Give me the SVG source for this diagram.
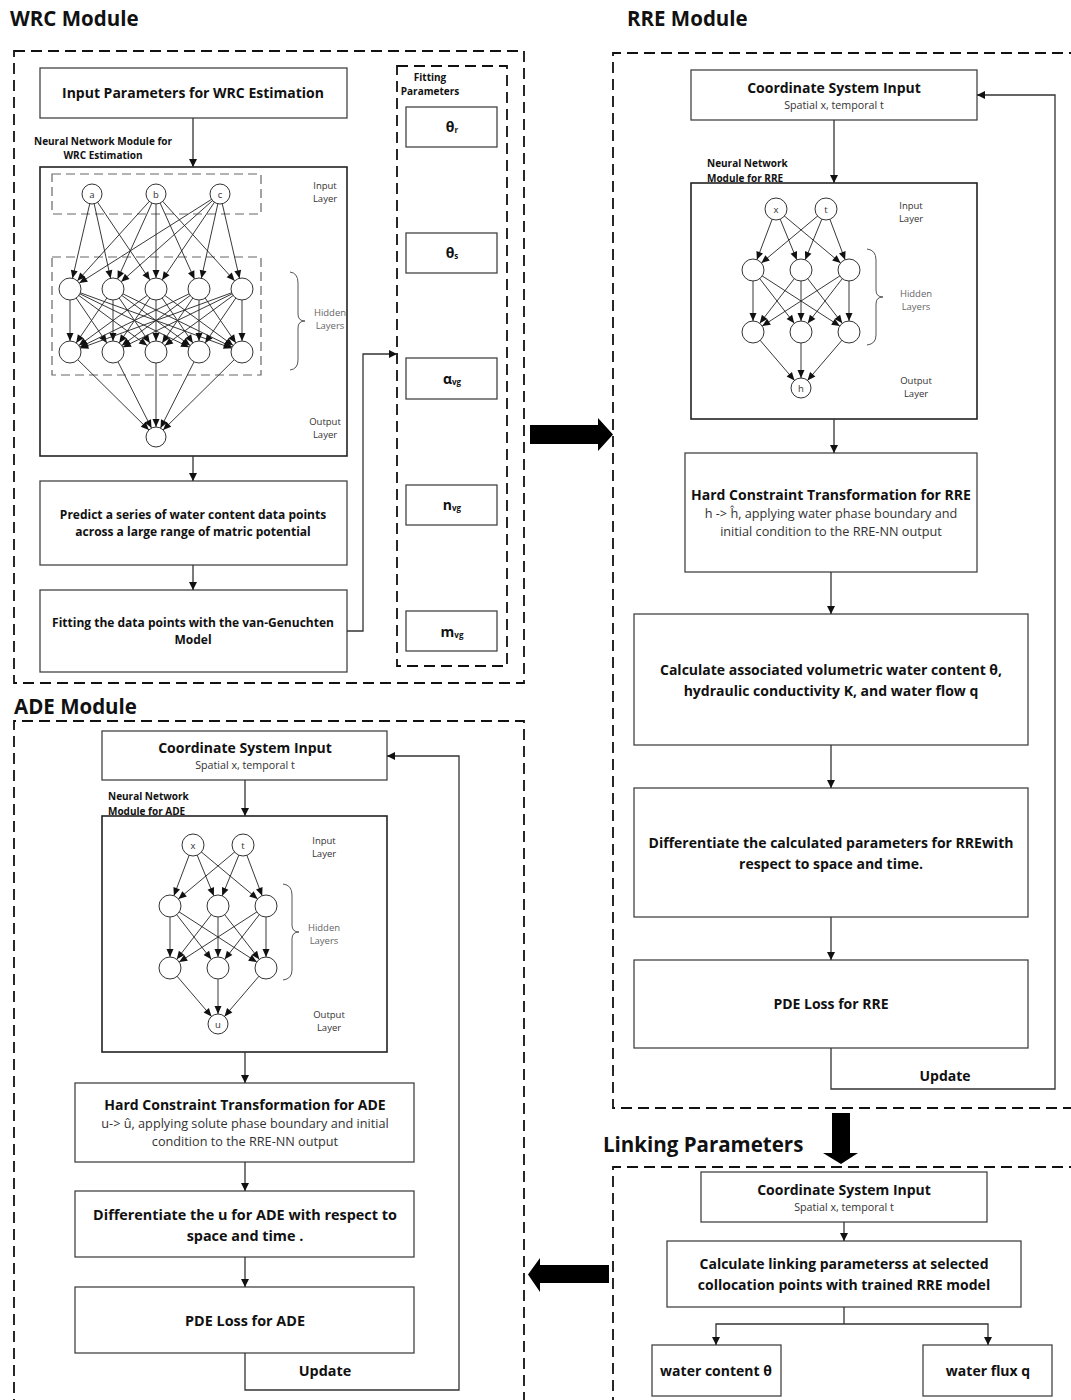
<svg xmlns="http://www.w3.org/2000/svg" width="1071" height="1400" viewBox="0 0 1071 1400">
  <style>
    text { font-family: "Open Sans", "Liberation Sans", sans-serif; fill: #111; }
    .h1 { font-size: 20.5px; font-weight: 700; }
    .bt { font-size: 14px; font-weight: 700; text-anchor: middle; }
    .bl { font-size: 14.4px; font-weight: 700; text-anchor: middle; }
    .bm { font-size: 12px; font-weight: 700; text-anchor: middle; }
    .sub { font-size: 10.7px; text-anchor: middle; fill: #333; }
    .sub2 { font-size: 12.7px; text-anchor: middle; fill: #333; }
    .lbl { font-size: 10px; font-weight: 700; }
    .lay { font-size: 9.5px; text-anchor: middle; fill: #333; }
    .layg { font-size: 9.5px; text-anchor: middle; fill: #666; }
    .nd { font-size: 9.5px; text-anchor: middle; fill: #333; }
    .prm { font-size: 14px; font-weight: 700; text-anchor: middle; }
    .prm tspan.s { font-size: 8px; }
    .box { fill: #fff; stroke: #444; stroke-width: 1.3; }
    .nnbox { fill: #fff; stroke: #222; stroke-width: 1.6; }
    .dash { fill: none; stroke: #111; stroke-width: 1.8; stroke-dasharray: 11 6; }
    .dashg { fill: none; stroke: #666; stroke-width: 1.2; stroke-dasharray: 9 5; }
    .flow { fill: none; stroke: #333; stroke-width: 1.3; marker-end: url(#arr); }
    .wire { fill: none; stroke: #333; stroke-width: 1.3; }
    .e11 { stroke: #222; stroke-width: 0.9; marker-end: url(#nn11); }
    .e10 { stroke: #222; stroke-width: 0.9; marker-end: url(#nn10); }
    .nc { fill: #fff; stroke: #333; stroke-width: 1; }
    .brace { fill: none; stroke: #555; stroke-width: 1; }
    .block { fill: #000; }
  </style>
  <defs>
    <marker id="arr" markerUnits="userSpaceOnUse" markerWidth="9" markerHeight="8" refX="8" refY="4" orient="auto" overflow="visible">
      <path d="M0,0 L8,4 L0,8 z" fill="#111"/>
    </marker>
    <!-- arrowheads that stop at the rim of a network node (r = 11 / r = 10) -->
    <marker id="nn11" markerUnits="userSpaceOnUse" markerWidth="8" markerHeight="7" refX="19" refY="3.5" orient="auto" overflow="visible">
      <path d="M0,0 L8,3.5 L0,7 z" fill="#111"/>
    </marker>
    <marker id="nn10" markerUnits="userSpaceOnUse" markerWidth="8" markerHeight="7" refX="18" refY="3.5" orient="auto" overflow="visible">
      <path d="M0,0 L8,3.5 L0,7 z" fill="#111"/>
    </marker>
    <!-- small 2-3-3-1 network used by the RRE and ADE modules -->
    <g id="net2">
      <line class="e11" x1="-25" y1="0" x2="-48" y2="61"/>
      <line class="e11" x1="-25" y1="0" x2="0" y2="61"/>
      <line class="e11" x1="-25" y1="0" x2="48" y2="61"/>
      <line class="e11" x1="25" y1="0" x2="-48" y2="61"/>
      <line class="e11" x1="25" y1="0" x2="0" y2="61"/>
      <line class="e11" x1="25" y1="0" x2="48" y2="61"/>
      <line class="e11" x1="-48" y1="61" x2="-48" y2="123"/>
      <line class="e11" x1="-48" y1="61" x2="0" y2="123"/>
      <line class="e11" x1="-48" y1="61" x2="48" y2="123"/>
      <line class="e11" x1="0" y1="61" x2="-48" y2="123"/>
      <line class="e11" x1="0" y1="61" x2="0" y2="123"/>
      <line class="e11" x1="0" y1="61" x2="48" y2="123"/>
      <line class="e11" x1="48" y1="61" x2="-48" y2="123"/>
      <line class="e11" x1="48" y1="61" x2="0" y2="123"/>
      <line class="e11" x1="48" y1="61" x2="48" y2="123"/>
      <line class="e10" x1="-48" y1="123" x2="0" y2="179"/>
      <line class="e10" x1="0" y1="123" x2="0" y2="179"/>
      <line class="e10" x1="48" y1="123" x2="0" y2="179"/>
      <circle class="nc" cx="-25" cy="0" r="11"/>
      <circle class="nc" cx="25" cy="0" r="11"/>
      <circle class="nc" cx="-48" cy="61" r="11"/>
      <circle class="nc" cx="0" cy="61" r="11"/>
      <circle class="nc" cx="48" cy="61" r="11"/>
      <circle class="nc" cx="-48" cy="123" r="11"/>
      <circle class="nc" cx="0" cy="123" r="11"/>
      <circle class="nc" cx="48" cy="123" r="11"/>
      <circle class="nc" cx="0" cy="179" r="10"/>
      <text class="nd" x="-25" y="3.5">x</text>
      <text class="nd" x="25" y="3.5">t</text>
    </g>
  </defs>

  <rect width="1071" height="1400" fill="#fff"/>

  <!-- ===== WRC module ===== -->
  <g id="wrc-module">
    <text class="h1" x="10" y="26">WRC Module</text>
    <rect class="dash" x="14" y="51" width="510" height="632"/>
  </g>

  <g id="wrc-input">
    <rect class="box" x="40" y="68" width="307" height="50"/>
    <text class="bt" x="193" y="98">Input Parameters for WRC Estimation</text>
  </g>

  <g id="wrc-nn">
    <text class="lbl" x="103" y="145" text-anchor="middle">Neural Network Module for</text>
    <text class="lbl" x="103" y="159" text-anchor="middle">WRC Estimation</text>
    <rect class="nnbox" x="40" y="167" width="307" height="289"/>
    <rect class="dashg" x="52" y="174" width="209" height="40"/>
    <rect class="dashg" x="52" y="257" width="209" height="118"/>
    <!-- input -> hidden 1 -->
    <line class="e11" x1="92" y1="194" x2="70" y2="289"/>
    <line class="e11" x1="92" y1="194" x2="113" y2="289"/>
    <line class="e11" x1="92" y1="194" x2="156" y2="289"/>
    <line class="e11" x1="156" y1="194" x2="70" y2="289"/>
    <line class="e11" x1="156" y1="194" x2="113" y2="289"/>
    <line class="e11" x1="156" y1="194" x2="156" y2="289"/>
    <line class="e11" x1="156" y1="194" x2="199" y2="289"/>
    <line class="e11" x1="156" y1="194" x2="242" y2="289"/>
    <line class="e11" x1="220" y1="194" x2="70" y2="289"/>
    <line class="e11" x1="220" y1="194" x2="113" y2="289"/>
    <line class="e11" x1="220" y1="194" x2="156" y2="289"/>
    <line class="e11" x1="220" y1="194" x2="199" y2="289"/>
    <line class="e11" x1="220" y1="194" x2="242" y2="289"/>
    <!-- hidden 1 -> hidden 2 -->
    <line class="e11" x1="70" y1="289" x2="70" y2="352"/>
    <line class="e11" x1="70" y1="289" x2="113" y2="352"/>
    <line class="e11" x1="70" y1="289" x2="156" y2="352"/>
    <line class="e11" x1="70" y1="289" x2="199" y2="352"/>
    <line class="e11" x1="70" y1="289" x2="242" y2="352"/>
    <line class="e11" x1="113" y1="289" x2="70" y2="352"/>
    <line class="e11" x1="113" y1="289" x2="113" y2="352"/>
    <line class="e11" x1="113" y1="289" x2="156" y2="352"/>
    <line class="e11" x1="113" y1="289" x2="199" y2="352"/>
    <line class="e11" x1="113" y1="289" x2="242" y2="352"/>
    <line class="e11" x1="156" y1="289" x2="70" y2="352"/>
    <line class="e11" x1="156" y1="289" x2="113" y2="352"/>
    <line class="e11" x1="156" y1="289" x2="156" y2="352"/>
    <line class="e11" x1="156" y1="289" x2="199" y2="352"/>
    <line class="e11" x1="156" y1="289" x2="242" y2="352"/>
    <line class="e11" x1="199" y1="289" x2="70" y2="352"/>
    <line class="e11" x1="199" y1="289" x2="113" y2="352"/>
    <line class="e11" x1="199" y1="289" x2="156" y2="352"/>
    <line class="e11" x1="199" y1="289" x2="199" y2="352"/>
    <line class="e11" x1="199" y1="289" x2="242" y2="352"/>
    <line class="e11" x1="242" y1="289" x2="70" y2="352"/>
    <line class="e11" x1="242" y1="289" x2="113" y2="352"/>
    <line class="e11" x1="242" y1="289" x2="156" y2="352"/>
    <line class="e11" x1="242" y1="289" x2="199" y2="352"/>
    <line class="e11" x1="242" y1="289" x2="242" y2="352"/>
    <!-- hidden 2 -> output -->
    <line class="e10" x1="70" y1="352" x2="156" y2="437"/>
    <line class="e10" x1="113" y1="352" x2="156" y2="437"/>
    <line class="e10" x1="156" y1="352" x2="156" y2="437"/>
    <line class="e10" x1="199" y1="352" x2="156" y2="437"/>
    <line class="e10" x1="242" y1="352" x2="156" y2="437"/>
    <circle class="nc" cx="92" cy="194" r="10"/>
    <circle class="nc" cx="156" cy="194" r="10"/>
    <circle class="nc" cx="220" cy="194" r="10"/>
    <text class="nd" x="92" y="197.5">a</text>
    <text class="nd" x="156" y="197.5">b</text>
    <text class="nd" x="220" y="197.5">c</text>
    <circle class="nc" cx="70" cy="289" r="11"/>
    <circle class="nc" cx="113" cy="289" r="11"/>
    <circle class="nc" cx="156" cy="289" r="11"/>
    <circle class="nc" cx="199" cy="289" r="11"/>
    <circle class="nc" cx="242" cy="289" r="11"/>
    <circle class="nc" cx="70" cy="352" r="11"/>
    <circle class="nc" cx="113" cy="352" r="11"/>
    <circle class="nc" cx="156" cy="352" r="11"/>
    <circle class="nc" cx="199" cy="352" r="11"/>
    <circle class="nc" cx="242" cy="352" r="11"/>
    <circle class="nc" cx="156" cy="437" r="10"/>
    <text class="lay" x="325" y="189">Input</text>
    <text class="lay" x="325" y="202">Layer</text>
    <path class="brace" d="M290,272 Q298,273 298,283 L298,314 Q298,321 305,321 Q298,321 298,328 L298,360 Q298,369 290,370"/>
    <text class="layg" x="330" y="316">Hidden</text>
    <text class="layg" x="330" y="329">Layers</text>
    <text class="lay" x="325" y="425">Output</text>
    <text class="lay" x="325" y="438">Layer</text>
  </g>

  <g id="wrc-predict">
    <rect class="box" x="40" y="481" width="307" height="84"/>
    <text class="bm" x="193" y="519">Predict a series of water content data points</text>
    <text class="bm" x="193" y="536">across a large range of matric potential</text>
  </g>

  <g id="wrc-fit">
    <rect class="box" x="40" y="590" width="307" height="82"/>
    <text class="bm" x="193" y="627">Fitting the data points with the van-Genuchten</text>
    <text class="bm" x="193" y="644">Model</text>
  </g>

  <g id="wrc-params">
    <rect class="dash" x="397" y="66" width="110" height="600"/>
    <text class="lbl" x="430" y="81" text-anchor="middle">Fitting</text>
    <text class="lbl" x="430" y="95" text-anchor="middle">Parameters</text>
    <rect class="box" x="406" y="107" width="91" height="40"/>
    <text class="prm" x="452" y="132">θ<tspan class="s" dy="1">r</tspan></text>
    <rect class="box" x="406" y="233" width="91" height="40"/>
    <text class="prm" x="452" y="258">θ<tspan class="s" dy="1">s</tspan></text>
    <rect class="box" x="406" y="358" width="91" height="41"/>
    <text class="prm" x="452" y="384">α<tspan class="s" dy="1">vg</tspan></text>
    <rect class="box" x="406" y="485" width="91" height="40"/>
    <text class="prm" x="452" y="510">n<tspan class="s" dy="1">vg</tspan></text>
    <rect class="box" x="406" y="611" width="91" height="40"/>
    <text class="prm" x="452" y="637">m<tspan class="s" dy="1">vg</tspan></text>
  </g>

  <!-- ===== RRE module ===== -->
  <g id="rre-module">
    <text class="h1" x="627" y="26">RRE Module</text>
    <path class="dash" d="M1080,53 H613 V1108 H1080"/>
  </g>

  <g id="rre-coord">
    <rect class="box" x="691" y="70" width="286" height="50"/>
    <text class="bt" x="834" y="93">Coordinate System Input</text>
    <text class="sub" x="834" y="109">Spatial x, temporal t</text>
  </g>

  <g id="rre-nn">
    <text class="lbl" x="707" y="167">Neural Network</text>
    <text class="lbl" x="707" y="182">Module for RRE</text>
    <rect class="nnbox" x="691" y="183" width="286" height="236"/>
    <use href="#net2" transform="translate(801,209)"/>
    <text class="nd" x="801" y="391.5">h</text>
    <text class="lay" x="911" y="209">Input</text>
    <text class="lay" x="911" y="222">Layer</text>
    <path class="brace" d="M867,249 Q876,250 876,260 L876,290 Q876,297 883,297 Q876,297 876,304 L876,335 Q876,344 867,345"/>
    <text class="layg" x="916" y="297">Hidden</text>
    <text class="layg" x="916" y="310">Layers</text>
    <text class="lay" x="916" y="384">Output</text>
    <text class="lay" x="916" y="397">Layer</text>
  </g>

  <g id="rre-hard">
    <rect class="box" x="685" y="453" width="292" height="119"/>
    <text class="bt" x="831" y="500">Hard Constraint Transformation for RRE</text>
    <text class="sub2" x="831" y="518">h -&gt; ĥ, applying water phase boundary and</text>
    <text class="sub2" x="831" y="536">initial condition to the RRE-NN output</text>
  </g>

  <g id="rre-calc">
    <rect class="box" x="634" y="614" width="394" height="131"/>
    <text class="bt" x="831" y="675">Calculate associated volumetric water content θ,</text>
    <text class="bt" x="831" y="696">hydraulic conductivity K, and water flow q</text>
  </g>

  <g id="rre-diff">
    <rect class="box" x="634" y="788" width="394" height="129"/>
    <text class="bt" x="831" y="848">Differentiate the calculated parameters for RREwith</text>
    <text class="bt" x="831" y="869">respect to space and time.</text>
  </g>

  <g id="rre-loss">
    <rect class="box" x="634" y="960" width="394" height="88"/>
    <text class="bt" x="831" y="1009">PDE Loss for RRE</text>
    <text class="bt" x="945" y="1081">Update</text>
  </g>

  <!-- ===== Linking parameters ===== -->
  <g id="link-module">
    <text class="h1" x="603" y="1152">Linking Parameters</text>
    <path class="dash" d="M1080,1167 H613 V1410"/>
  </g>

  <g id="link-coord">
    <rect class="box" x="701" y="1172" width="286" height="50"/>
    <text class="bt" x="844" y="1195">Coordinate System Input</text>
    <text class="sub" x="844" y="1211">Spatial x, temporal t</text>
  </g>

  <g id="link-calc">
    <rect class="box" x="667" y="1241" width="354" height="66"/>
    <text class="bt" x="844" y="1269">Calculate linking parameterss at selected</text>
    <text class="bt" x="844" y="1290">collocation points with trained RRE model</text>
  </g>

  <g id="link-theta">
    <rect class="box" x="652" y="1345" width="129" height="51"/>
    <text class="bt" x="716" y="1376">water content θ</text>
  </g>

  <g id="link-q">
    <rect class="box" x="923" y="1345" width="129" height="51"/>
    <text class="bt" x="988" y="1376">water flux q</text>
  </g>

  <!-- ===== ADE module ===== -->
  <g id="ade-module">
    <text class="h1" x="14" y="714">ADE Module</text>
    <path class="dash" d="M14,1410 V721 H524 V1410"/>
  </g>

  <g id="ade-coord">
    <rect class="box" x="102" y="731" width="285" height="49"/>
    <text class="bt" x="245" y="753">Coordinate System Input</text>
    <text class="sub" x="245" y="769">Spatial x, temporal t</text>
  </g>

  <g id="ade-nn">
    <text class="lbl" x="108" y="800">Neural Network</text>
    <text class="lbl" x="108" y="815">Module for ADE</text>
    <rect class="nnbox" x="102" y="816" width="285" height="236"/>
    <use href="#net2" transform="translate(218,845)"/>
    <text class="nd" x="218" y="1027.5">u</text>
    <text class="lay" x="324" y="844">Input</text>
    <text class="lay" x="324" y="857">Layer</text>
    <path class="brace" d="M283,884 Q292,885 292,895 L292,925 Q292,932 299,932 Q292,932 292,939 L292,970 Q292,979 283,980"/>
    <text class="layg" x="324" y="931">Hidden</text>
    <text class="layg" x="324" y="944">Layers</text>
    <text class="lay" x="329" y="1018">Output</text>
    <text class="lay" x="329" y="1031">Layer</text>
  </g>

  <g id="ade-hard">
    <rect class="box" x="75" y="1083" width="339" height="79"/>
    <text class="bt" x="245" y="1110">Hard Constraint Transformation for ADE</text>
    <text class="sub2" x="245" y="1128">u-&gt; û, applying solute phase boundary and initial</text>
    <text class="sub2" x="245" y="1146">condition to the RRE-NN output</text>
  </g>

  <g id="ade-diff">
    <rect class="box" x="75" y="1191" width="339" height="66"/>
    <text class="bl" x="245" y="1220">Differentiate the u for ADE with respect to</text>
    <text class="bl" x="245" y="1241">space and time .</text>
  </g>

  <g id="ade-loss">
    <rect class="box" x="75" y="1287" width="339" height="66"/>
    <text class="bl" x="245" y="1326">PDE Loss for ADE</text>
    <text class="bl" x="325" y="1376">Update</text>
  </g>

  <!-- ===== connectors ===== -->
  <g id="connectors">
    <!-- WRC chain -->
    <line class="flow" x1="193" y1="118" x2="193" y2="167"/>
    <line class="flow" x1="193" y1="456" x2="193" y2="481"/>
    <line class="flow" x1="193" y1="565" x2="193" y2="590"/>
    <path class="flow" d="M347,631 H363 V354 H397"/>
    <!-- RRE chain -->
    <line class="flow" x1="834" y1="120" x2="834" y2="183"/>
    <line class="flow" x1="834" y1="419" x2="834" y2="453"/>
    <line class="flow" x1="831" y1="572" x2="831" y2="614"/>
    <line class="flow" x1="831" y1="745" x2="831" y2="788"/>
    <line class="flow" x1="831" y1="917" x2="831" y2="960"/>
    <path class="flow" d="M831,1048 V1089 H1055 V95 H977"/>
    <!-- linking chain -->
    <line class="flow" x1="844" y1="1222" x2="844" y2="1241"/>
    <line class="wire" x1="844" y1="1307" x2="844" y2="1324"/>
    <path class="flow" d="M844,1324 H716 V1345"/>
    <path class="flow" d="M844,1324 H988 V1345"/>
    <!-- ADE chain -->
    <line class="flow" x1="245" y1="780" x2="245" y2="816"/>
    <line class="flow" x1="245" y1="1052" x2="245" y2="1083"/>
    <line class="flow" x1="245" y1="1162" x2="245" y2="1191"/>
    <line class="flow" x1="245" y1="1257" x2="245" y2="1287"/>
    <path class="flow" d="M245,1353 V1390 H459 V756 H387"/>
    <!-- module-to-module block arrows -->
    <polygon class="block" points="530,425 598,425 598,418 613,434.5 598,451 598,444 530,444"/>
    <polygon class="block" points="832,1113 850,1113 850,1153 858,1153 841,1164 823,1153 832,1153"/>
    <polygon class="block" points="609,1265 540,1265 540,1258 528,1274.5 540,1292 540,1283 609,1283"/>
  </g>
</svg>
